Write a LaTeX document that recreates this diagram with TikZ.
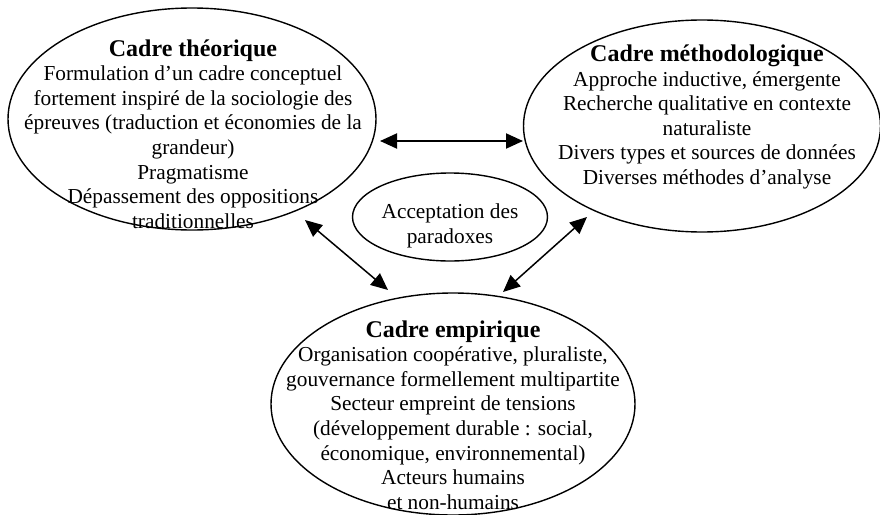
\documentclass[tikz,border=0pt]{standalone}
\usepackage{fontspec}
\setmainfont{Liberation Serif}
\usetikzlibrary{shapes.geometric,arrows.meta,calc}
\newcommand{\hd}[1]{{\fontsize{24}{26}\selectfont\bfseries #1}}
\begin{document}
\begin{tikzpicture}[x=1pt,y=-1pt,
  oval/.style={draw,ellipse,line width=1.4pt,inner sep=0pt,outer sep=0pt},
  txt/.style={align=center,inner sep=0pt,font=\fontsize{21.3}{24.6}\selectfont},
  link/.style={{Triangle[length=17pt,width=15pt]}-{Triangle[length=17pt,width=15pt]},line width=1.5pt},
  hlink/.style={link,line width=2pt}]
\useasboundingbox (0,0) rectangle (880,514);
\node[oval,minimum width=368pt,minimum height=222pt] (L) at (192,119) {};
\node[oval,minimum width=357pt,minimum height=212pt] (R) at (702,126) {};
\node[oval,minimum width=364pt,minimum height=222pt] (B) at (453,404) {};
\node[oval,minimum width=195pt,minimum height=88pt] (C) at (450,217) {};
\node[txt] (Ct) at (450,226) {Acceptation des\\paradoxes};
\node[txt] (Lt) at (193,134) {\hd{Cadre théorique}\\Formulation d’un cadre conceptuel\\fortement inspiré de la sociologie des\\épreuves (traduction et économies de la\\grandeur)\\Pragmatisme\\Dépassement des oppositions\\traditionnelles};
\node[txt] (Rt) at (707,117) {\hd{Cadre méthodologique}\\Approche inductive, émergente\\Recherche qualitative en contexte\\naturaliste\\Divers types et sources de données\\Diverses méthodes d’analyse};
\node[txt] (Bt) at (453,415) {\hd{Cadre empirique}\\Organisation coopérative, pluraliste,\\gouvernance formellement multipartite\\Secteur empreint de tensions\\(développement durable : social,\\économique, environnemental)\\Acteurs humains\\et non-humains};
\draw[hlink] ($(L.center)+(188,22)$) -- ($(R.center)+(-179,15)$);
\draw[link] ($(L.center)+(113,101)$) -- ($(B.center)+(-65,-114)$);
\draw[link] ($(R.center)+(-115,91)$) -- ($(B.center)+(50,-112)$);
\end{tikzpicture}
\end{document}
